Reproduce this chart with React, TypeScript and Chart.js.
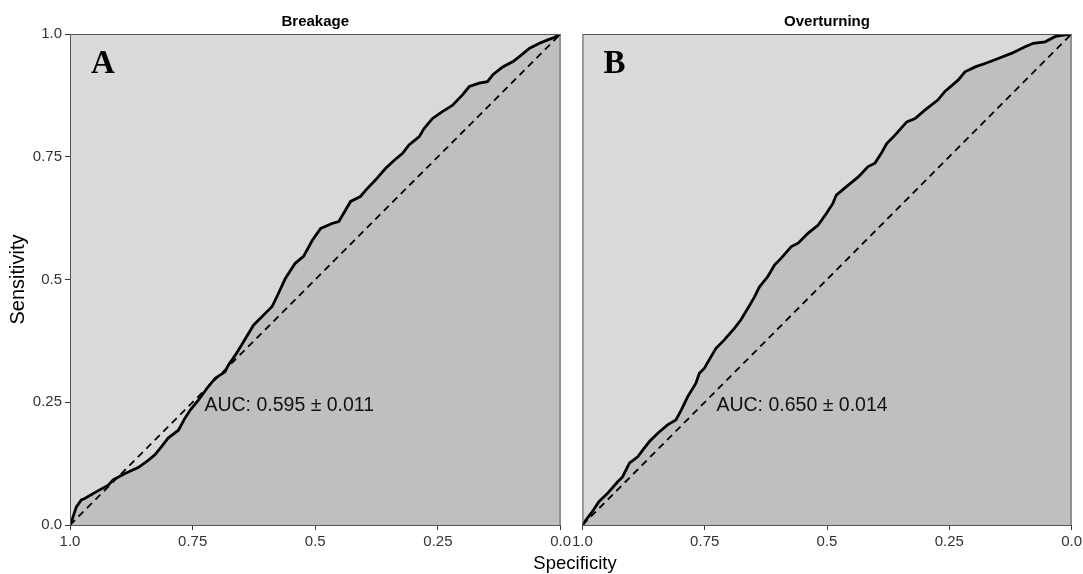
import React, { useEffect, useRef } from "react";
import { Chart, registerables } from "chart.js";

Chart.register(...registerables);

// ---------- data ----------
const TICK_VALUES = [0, 0.25, 0.5, 0.75, 1];
const TICK_LABELS = ["0.0", "0.25", "0.5", "0.75", "1.0"];

const BREAKAGE_SPEC = [
  1.0, 0.996, 0.987, 0.977, 0.97, 0.946, 0.922, 0.912, 0.888, 0.861, 0.84, 0.827, 0.813, 0.8,
  0.779, 0.766, 0.755, 0.738, 0.718, 0.704, 0.684, 0.677, 0.663, 0.65, 0.626, 0.602, 0.588,
  0.575, 0.561, 0.541, 0.524, 0.506, 0.489, 0.466, 0.452, 0.438, 0.428, 0.408, 0.397, 0.377,
  0.357, 0.339, 0.322, 0.309, 0.288, 0.278, 0.261, 0.241, 0.22, 0.2, 0.186, 0.166, 0.149,
  0.138, 0.118, 0.097, 0.084, 0.063, 0.043, 0.026, 0.013, 0.0,
];
const BREAKAGE_SENS = [
  0.0, 0.01, 0.037, 0.051, 0.054, 0.068, 0.081, 0.092, 0.105, 0.117, 0.132, 0.143, 0.16, 0.177,
  0.193, 0.217, 0.234, 0.255, 0.282, 0.299, 0.312, 0.326, 0.346, 0.367, 0.407, 0.431, 0.445,
  0.472, 0.502, 0.533, 0.547, 0.58, 0.604, 0.614, 0.618, 0.642, 0.659, 0.669, 0.682, 0.703,
  0.726, 0.743, 0.757, 0.774, 0.791, 0.808, 0.828, 0.842, 0.855, 0.876, 0.893, 0.9, 0.903,
  0.917, 0.933, 0.944, 0.954, 0.971, 0.981, 0.988, 0.993, 1.0,
];

const OVERTURNING_SPEC = [
  1.0, 0.99, 0.98, 0.966, 0.949, 0.928, 0.918, 0.904, 0.887, 0.874, 0.863, 0.846, 0.826, 0.809,
  0.798, 0.785, 0.768, 0.761, 0.751, 0.737, 0.727, 0.71, 0.689, 0.676, 0.662, 0.648, 0.638,
  0.621, 0.607, 0.594, 0.573, 0.559, 0.539, 0.518, 0.501, 0.488, 0.481, 0.464, 0.436, 0.416,
  0.402, 0.389, 0.378, 0.361, 0.337, 0.32, 0.3, 0.273, 0.259, 0.232, 0.218, 0.197, 0.177,
  0.15, 0.122, 0.095, 0.078, 0.054, 0.033, 0.013, 0.0,
];
const OVERTURNING_SENS = [
  0.0, 0.014, 0.027, 0.048, 0.064, 0.088, 0.098, 0.126, 0.139, 0.156, 0.17, 0.187, 0.204, 0.214,
  0.234, 0.261, 0.289, 0.309, 0.319, 0.343, 0.36, 0.377, 0.401, 0.418, 0.441, 0.465, 0.485,
  0.506, 0.53, 0.543, 0.567, 0.574, 0.594, 0.611, 0.635, 0.655, 0.672, 0.686, 0.709, 0.73,
  0.737, 0.757, 0.777, 0.794, 0.821, 0.828, 0.845, 0.866, 0.883, 0.906, 0.923, 0.933, 0.94,
  0.95, 0.961, 0.974, 0.981, 0.984, 0.995, 0.998, 1.0,
];

const DIAGONAL_SPEC = [1, 0];
const DIAGONAL_SENS = [0, 1];

const PANEL_TITLES = ["Breakage", "Overturning"];
const PANEL_LETTERS = ["A", "B"];
const AUC_TEXTS = ["AUC: 0.595 \u00b1 0.011", "AUC: 0.650 \u00b1 0.014"];
const AUC_POS = { spec: 0.726, sens: 0.244 };

const LIGHT = "#d9d9d9";
const DARK = "#bfbfbf";
const FRAME = "#555555";
const SANS = "'Liberation Sans', Arial, sans-serif";
const SERIF = "'Liberation Serif', 'Times New Roman', serif";

type PanelProps = {
  spec: number[];
  sens: number[];
  title: string;
  letter: string;
  auc: string;
  showY: boolean;
  width: number;
  left: number;
  yWidth: number;
  padRight: number;
};

function Panel(p: PanelProps) {
  const ref = useRef<HTMLCanvasElement | null>(null);
  useEffect(() => {
    if (!ref.current) return;
    const tickLabel = (v: any) => {
      const i = TICK_VALUES.findIndex((t) => Math.abs(t - Number(v)) < 1e-9);
      return i >= 0 ? TICK_LABELS[i] : "";
    };
    const decor = {
      id: "decor",
      beforeDraw(chart: any) {
        const { ctx, chartArea: a } = chart;
        ctx.save();
        ctx.fillStyle = LIGHT;
        ctx.fillRect(a.left, a.top, a.right - a.left, a.bottom - a.top);
        ctx.restore();
      },
      afterDraw(chart: any) {
        const { ctx, chartArea: a, scales } = chart;
        ctx.save();
        ctx.strokeStyle = FRAME;
        ctx.lineWidth = 1;
        ctx.strokeRect(a.left + 0.5, a.top + 0.5, a.right - a.left - 1, a.bottom - a.top);
        ctx.fillStyle = "#000";
        ctx.font = `bold 33px ${SERIF}`;
        ctx.textBaseline = "alphabetic";
        ctx.textAlign = "left";
        ctx.fillText(p.letter, a.left + 21, a.top + 39);
        ctx.fillStyle = "#111";
        ctx.font = `19.5px ${SANS}`;
        ctx.textBaseline = "middle";
        ctx.fillText(
          p.auc,
          scales.x.getPixelForValue(AUC_POS.spec),
          scales.y.getPixelForValue(AUC_POS.sens)
        );
        ctx.restore();
      },
    };
    const chart = new Chart(ref.current, {
      type: "line",
      data: {
        datasets: [
          {
            data: p.spec.map((s, i) => ({ x: s, y: p.sens[i] })),
            borderColor: "#000",
            borderWidth: 2.8,
            backgroundColor: DARK,
            fill: "start",
            pointRadius: 0,
            tension: 0,
          },
          {
            data: DIAGONAL_SPEC.map((s, i) => ({ x: s, y: DIAGONAL_SENS[i] })),
            borderColor: "#000",
            borderWidth: 1.8,
            borderDash: [7, 5],
            fill: false,
            pointRadius: 0,
          },
        ],
      },
      options: {
        animation: false,
        responsive: false,
        maintainAspectRatio: false,
        layout: { padding: { left: 0, right: p.padRight, top: 0, bottom: 0 } },
        plugins: {
          legend: { display: false },
          tooltip: { enabled: false },
          filler: { drawTime: "beforeDatasetsDraw" },
          title: {
            display: true,
            fullSize: false,
            text: p.title,
            color: "#000",
            font: { family: SANS, size: 15, weight: "bold", lineHeight: 1.2 },
            padding: { top: 13, bottom: 3 },
          },
        } as any,
        scales: {
          x: {
            type: "linear",
            reverse: true,
            min: 0,
            max: 1,
            border: { display: false },
            grid: {
              display: true,
              drawOnChartArea: false,
              drawTicks: true,
              tickLength: 5,
              color: "#333",
            },
            ticks: {
              stepSize: 0.25,
              padding: 3,
              color: "#333",
              maxRotation: 0,
              autoSkip: false,
              font: { family: SANS, size: 15 },
              callback: tickLabel,
            },
            afterFit: (s: any) => {
              s.height = 49;
            },
          },
          y: {
            type: "linear",
            min: 0,
            max: 1,
            border: { display: false },
            grid: {
              display: p.showY,
              drawOnChartArea: false,
              drawTicks: true,
              tickLength: 5,
              color: "#333",
            },
            ticks: {
              display: p.showY,
              stepSize: 0.25,
              padding: 3,
              color: "#333",
              font: { family: SANS, size: 15 },
              callback: tickLabel,
            },
            title: {
              display: p.showY,
              text: "Sensitivity",
              color: "#000",
              font: { family: SANS, size: 20, lineHeight: 1.2 },
              padding: { top: 6, bottom: 0 },
            },
            afterFit: (s: any) => {
              s.width = p.yWidth;
            },
          },
        },
      } as any,
      plugins: [decor],
    });
    return () => chart.destroy();
  }, []);
  return (
    <canvas
      ref={ref}
      width={p.width}
      height={574}
      style={{ position: "absolute", left: p.left, top: 0, width: p.width, height: 574 }}
    />
  );
}

export default function App() {
  return (
    <div
      style={{
        position: "absolute",
        left: 0,
        top: 0,
        width: 1083,
        height: 574,
        background: "#fff",
        overflow: "hidden",
      }}
    >
      <Panel
        spec={BREAKAGE_SPEC}
        sens={BREAKAGE_SENS}
        title={PANEL_TITLES[0]}
        letter={PANEL_LETTERS[0]}
        auc={AUC_TEXTS[0]}
        showY={true}
        width={574}
        left={0}
        yWidth={70}
        padRight={12}
      />
      <Panel
        spec={OVERTURNING_SPEC}
        sens={OVERTURNING_SENS}
        title={PANEL_TITLES[1]}
        letter={PANEL_LETTERS[1]}
        auc={AUC_TEXTS[1]}
        showY={false}
        width={516}
        left={569}
        yWidth={11}
        padRight={12}
      />
      <div
        style={{
          position: "absolute",
          left: 475,
          width: 200,
          top: 552,
          lineHeight: "22px",
          textAlign: "center",
          fontFamily: SANS,
          fontSize: 18.5,
          color: "#000",
        }}
      >
        Specificity
      </div>
    </div>
  );
}
